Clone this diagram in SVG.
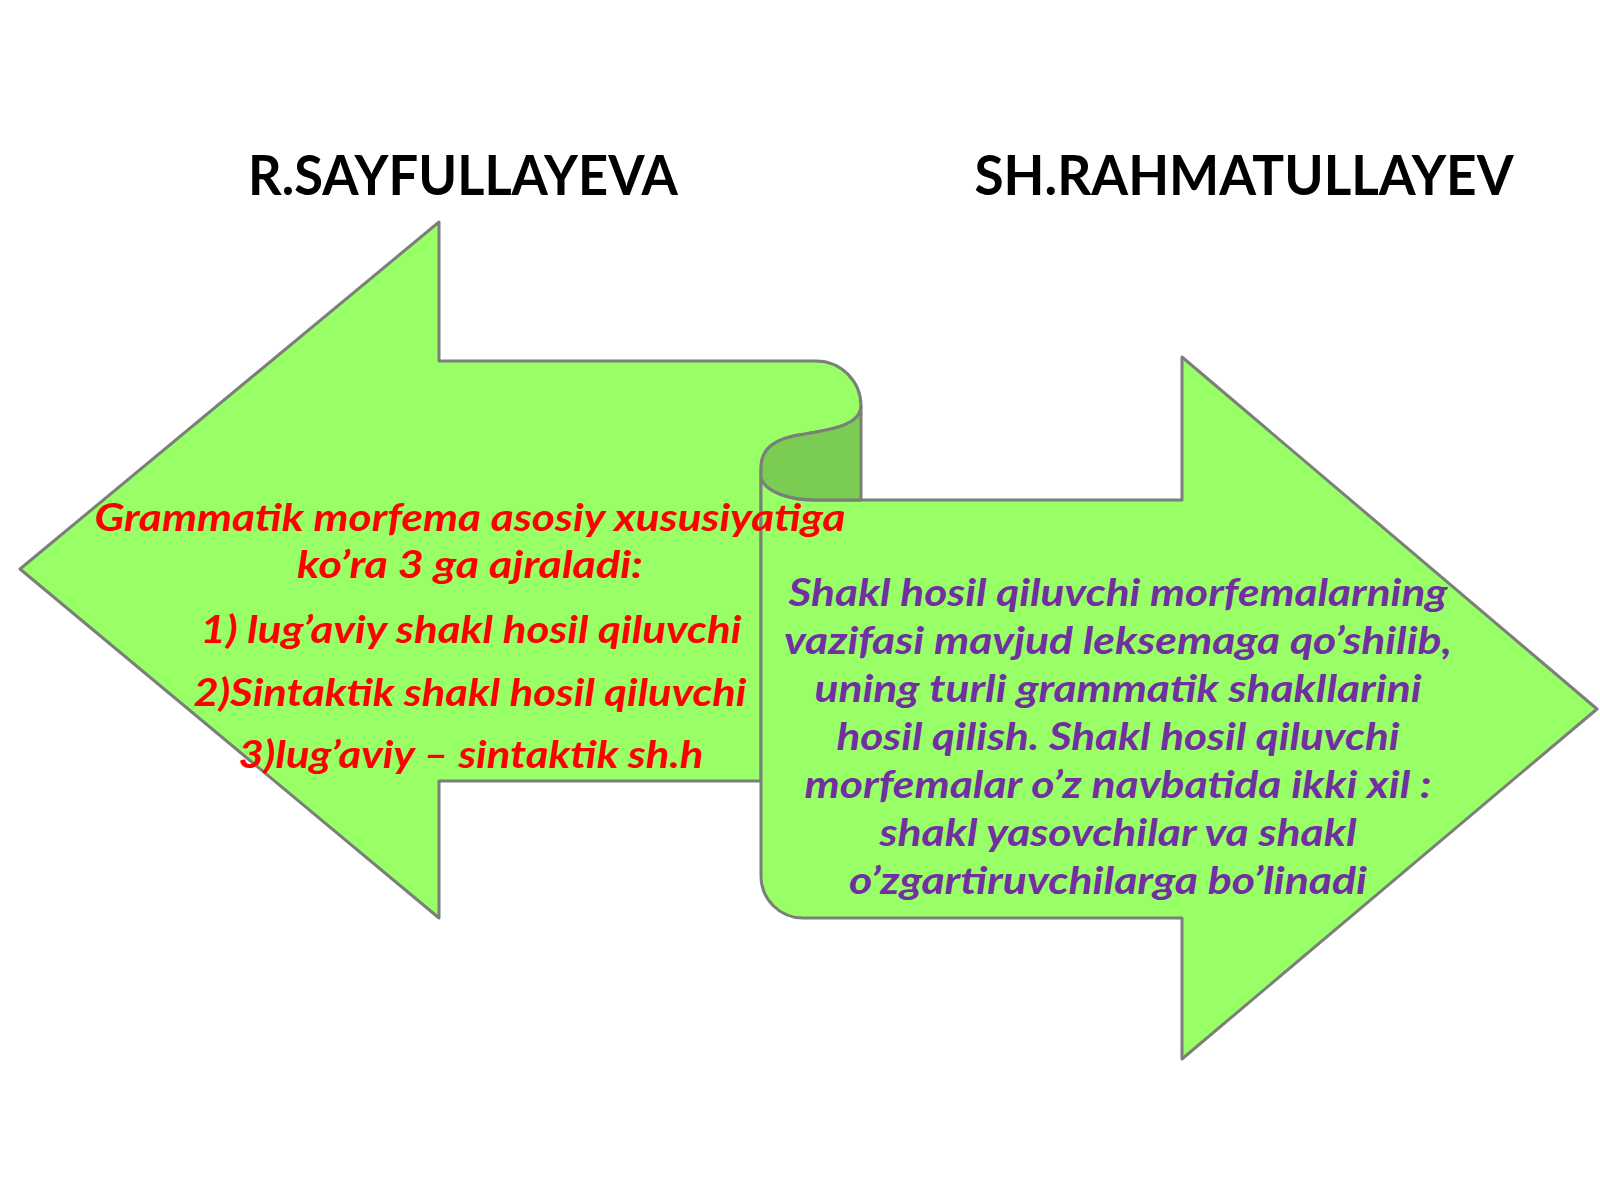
<svg xmlns="http://www.w3.org/2000/svg" width="1600" height="1200" viewBox="0 0 1600 1200">
<style>
.shape{fill:#99FF66;stroke:#7A7F7A;stroke-width:3;stroke-linejoin:round}
.roll{fill:#7ACC52;stroke:#7A7F7A;stroke-width:3;stroke-linejoin:round}
.title{font-family:Lato,"Liberation Sans",sans-serif;font-weight:bold;font-size:56px;fill:#000;text-anchor:middle}
.t{font-family:Lato,"Liberation Sans",sans-serif;font-weight:bold;font-style:italic;font-size:38px;text-anchor:middle}
.red{fill:#FF0000}
.pur{fill:#7030A0}
</style>
<rect width="1600" height="1200" fill="#FFFFFF"/>
<g id="title-left"><text class="title" x="463" y="195" textLength="430" lengthAdjust="spacingAndGlyphs">R.SAYFULLAYEVA</text></g>
<g id="title-right"><text class="title" x="1244" y="195" textLength="539" lengthAdjust="spacingAndGlyphs">SH.RAHMATULLAYEV</text></g>
<g id="left-arrow">
<path class="shape" d="M 20,569 L 439,222 L 439,361 L 816,361 A 45,45 0 0 1 861,406 C 861,425 830,430 805,434 C 775,438 761,448 761,468 L 761,781 L 439,781 L 439,918 Z"/>
</g>
<g id="right-arrow">
<path class="shape" d="M 761,478 C 765,492 790,500 815,500 L 1182,500 L 1182,357 L 1597,709 L 1182,1059 L 1182,918 L 803,918 A 42,42 0 0 1 761,876 Z"/>
<path class="roll" d="M 861,406 C 861,425 830,430 805,434 C 775,438 761,448 761,468 L 761,478 C 765,492 790,500 815,500 L 861,500 Z"/>
</g>
<g id="left-text" class="t red">
<text x="470" y="531" textLength="751" lengthAdjust="spacingAndGlyphs">Grammatik morfema asosiy xususiyatiga</text>
<text x="470" y="578" textLength="346" lengthAdjust="spacingAndGlyphs">ko’ra 3 ga ajraladi:</text>
<text x="471" y="643" textLength="541" lengthAdjust="spacingAndGlyphs">1) lug’aviy shakl hosil qiluvchi</text>
<text x="470" y="706" textLength="553" lengthAdjust="spacingAndGlyphs">2)Sintaktik shakl hosil qiluvchi</text>
<text x="471" y="768" textLength="465" lengthAdjust="spacingAndGlyphs">3)lug’aviy – sintaktik sh.h</text>
</g>
<g id="right-text" class="t pur">
<text x="1118" y="606" textLength="659" lengthAdjust="spacingAndGlyphs">Shakl hosil qiluvchi morfemalarning</text>
<text x="1118" y="654" textLength="668" lengthAdjust="spacingAndGlyphs">vazifasi mavjud leksemaga qo’shilib,</text>
<text x="1118" y="702" textLength="607" lengthAdjust="spacingAndGlyphs">uning turli grammatik shakllarini</text>
<text x="1118" y="750" textLength="563" lengthAdjust="spacingAndGlyphs">hosil qilish. Shakl hosil qiluvchi</text>
<text x="1118" y="798" textLength="627" lengthAdjust="spacingAndGlyphs">morfemalar o’z navbatida ikki xil :</text>
<text x="1118" y="846" textLength="477" lengthAdjust="spacingAndGlyphs">shakl yasovchilar va shakl</text>
<text x="1108" y="894" textLength="518" lengthAdjust="spacingAndGlyphs">o’zgartiruvchilarga bo’linadi</text>
</g>
</svg>
